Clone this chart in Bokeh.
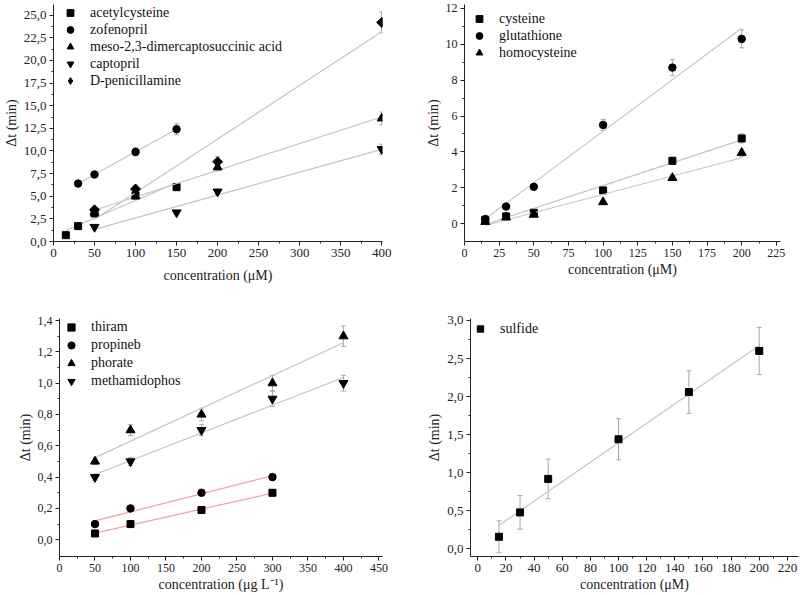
import numpy as np
from bokeh.plotting import figure
from bokeh.models import (ColumnDataSource, Whisker, TeeHead, Legend, LegendItem,
                          FixedTicker, CustomJSTickFormatter, Range1d)
from bokeh.layouts import column, row
from bokeh.embed import file_html
from bokeh.resources import INLINE

FONT = "Liberation Serif"
FIT_GRAY = "#c4c4c4"
FIT_RED = "#f2a0a0"
ERR_GRAY = "#a8a8a8"

# ---------------- Panel A: thiol drugs ----------------
a_names = ["acetylcysteine", "zofenopril", "meso-2,3-dimercaptosuccinic acid",
           "captopril", "D-penicillamine"]
a_markers = ["square", "circle", "triangle", "inverted_triangle", "diamond"]
a_x = [[15, 30, 50, 100, 150], [30, 50, 100, 150], [50, 100, 200, 400],
       [50, 150, 200, 400], [50, 100, 200, 400]]
a_y = [[0.7, 1.7, 3.1, 5.1, 6.0], [6.4, 7.4, 9.9, 12.4], [3.2, 5.0, 8.2, 13.6],
       [1.6, 3.2, 5.5, 10.2], [3.5, 5.8, 8.8, 24.2]]
a_err = [[0.1, 0.15, 0.2, 0.3, 0.3], [0.2, 0.3, 0.45, 0.6], [0.3, 0.35, 0.4, 0.7],
         [0.2, 0.2, 0.3, 0.55], [0.3, 0.4, 0.6, 1.15]]
a_xticks = [0, 50, 100, 150, 200, 250, 300, 350, 400]
a_yticks = [0, 2.5, 5, 7.5, 10, 12.5, 15, 17.5, 20, 22.5, 25]

# ---------------- Panel B: biothiols ----------------
b_names = ["cysteine", "glutathione", "homocysteine"]
b_markers = ["square", "circle", "triangle"]
b_x = [[15, 30, 50, 100, 150, 200]] * 3
b_y = [[0.2, 0.4, 0.6, 1.85, 3.5, 4.75], [0.25, 0.95, 2.05, 5.5, 8.7, 10.3],
       [0.1, 0.35, 0.5, 1.2, 2.55, 3.95]]
b_err = [[0.05, 0.08, 0.1, 0.15, 0.2, 0.25], [0.05, 0.1, 0.15, 0.3, 0.45, 0.5],
         [0.05, 0.05, 0.08, 0.1, 0.15, 0.2]]
b_xticks = [0, 25, 50, 75, 100, 125, 150, 175, 200, 225]
b_yticks = [0, 2, 4, 6, 8, 10, 12]

# ---------------- Panel C: pesticides ----------------
c_names = ["thiram", "propineb", "phorate", "methamidophos"]
c_markers = ["square", "circle", "triangle", "inverted_triangle"]
c_x = [[50, 100, 200, 300], [50, 100, 200, 300], [50, 100, 200, 300, 400],
       [50, 100, 200, 300, 400]]
c_y = [[0.04, 0.1, 0.19, 0.3], [0.1, 0.2, 0.3, 0.4], [0.5, 0.7, 0.8, 1.0, 1.3],
       [0.4, 0.5, 0.7, 0.9, 1.0]]
c_err = [[0.01, 0.01, 0.015, 0.02], [0.01, 0.01, 0.015, 0.02],
         [0.02, 0.035, 0.04, 0.05, 0.065], [0.02, 0.025, 0.035, 0.05, 0.05]]
c_fitcol = [FIT_RED, FIT_RED, FIT_GRAY, FIT_GRAY]
c_xticks = [0, 50, 100, 150, 200, 250, 300, 350, 400, 450]
c_yticks = [0, 0.2, 0.4, 0.6, 0.8, 1.0, 1.2, 1.4]

# ---------------- Panel D: sulfide ----------------
d_names = ["sulfide"]
d_markers = ["square"]
d_x = [[15, 30, 50, 100, 150, 200]]
d_y = [[0.16, 0.48, 0.92, 1.44, 2.06, 2.6]]
d_err = [[0.21, 0.22, 0.26, 0.27, 0.28, 0.31]]
d_xticks = [0, 20, 40, 60, 80, 100, 120, 140, 160, 180, 200, 220]
d_yticks = [0, 0.5, 1.0, 1.5, 2.0, 2.5, 3.0]

MSIZE = {"square": 7, "circle": 7.5, "triangle": 9, "inverted_triangle": 9, "diamond": 7}


def minor_of(ticks):
    return [(a + b) / 2 for a, b in zip(ticks[:-1], ticks[1:])]


def panel(w, h, borders, xr, yr, xticks, yticks, ydec, xlabel, tick_fs, xl_standoff,
          names, markers, xs, ys, errs, fitcols, leg):
    bl, br, bt, bb = borders
    p = figure(width=w, height=h, x_range=Range1d(*xr), y_range=Range1d(*yr),
               output_backend="svg", toolbar_location=None, title=None,
               min_border_left=bl, min_border_right=br,
               min_border_top=bt, min_border_bottom=bb)
    p.grid.visible = False
    p.outline_line_color = None
    p.background_fill_color = "white"

    for ax, ticks in ((p.xaxis[0], xticks), (p.yaxis[0], yticks)):
        ax.ticker = FixedTicker(ticks=ticks, minor_ticks=minor_of(ticks))
        ax.axis_line_color = "#222222"
        ax.major_tick_line_color = "#222222"
        ax.minor_tick_line_color = "#222222"
        ax.major_tick_out = 4
        ax.major_tick_in = 0
        ax.minor_tick_out = 2
        ax.minor_tick_in = 0
        ax.major_label_text_font = FONT
        ax.major_label_text_font_size = tick_fs
        ax.major_label_text_color = "#222222"
        ax.major_label_standoff = 3
        ax.axis_label_text_font = FONT
        ax.axis_label_text_font_size = "14px"
        ax.axis_label_text_font_style = "normal"
        ax.axis_label_text_color = "#222222"
        ax.axis_label_standoff = 2
    p.xaxis.axis_label = xlabel
    p.xaxis.axis_label_standoff = xl_standoff
    p.yaxis.axis_label = "Δt (min)"
    if ydec:
        p.yaxis.formatter = CustomJSTickFormatter(
            code="return tick.toFixed(%d).replace('.', ',');" % ydec)
    else:
        p.yaxis.formatter = CustomJSTickFormatter(code="return tick.toFixed(0);")
    p.xaxis.formatter = CustomJSTickFormatter(code="return tick.toFixed(0);")

    items = []
    for name, mk, x, y, e, fc in zip(names, markers, xs, ys, errs, fitcols):
        x = np.array(x, dtype=float)
        y = np.array(y, dtype=float)
        e = np.array(e, dtype=float)
        k, b0 = np.polyfit(x, y, 1)
        xf = np.array([x.min(), x.max()])
        p.line(xf, k * xf + b0, line_color=fc, line_width=1.2)
        src = ColumnDataSource(dict(x=x, y=y, up=y + e, lo=y - e))
        wk = Whisker(source=src, base="x", upper="up", lower="lo",
                     line_color=ERR_GRAY, line_width=1, level="underlay",
                     upper_head=TeeHead(size=5, line_color=ERR_GRAY, line_width=1),
                     lower_head=TeeHead(size=5, line_color=ERR_GRAY, line_width=1))
        p.add_layout(wk)
        if mk == "diamond":
            # diamond marker (used for the legend), covered by a square turned 45 degrees
            r = p.scatter("x", "y", source=src, marker="diamond", size=9,
                          fill_color="black", line_color="black")
            p.scatter("x", "y", source=src, marker="square", angle=np.pi / 4,
                      size=MSIZE[mk], fill_color="black", line_color="black")
        else:
            r = p.scatter("x", "y", source=src, marker=mk, size=MSIZE[mk],
                          fill_color="black", line_color="black")
        items.append(LegendItem(label=name, renderers=[r]))

    m, gw, gh, st = leg
    legend = Legend(items=items, location="top_left", margin=m, padding=0,
                    spacing=0, glyph_width=gw, glyph_height=gh, label_height=gh,
                    label_standoff=st, border_line_color=None,
                    background_fill_alpha=0, label_text_font=FONT,
                    label_text_font_size="14px", label_text_color="#111111")
    p.add_layout(legend)
    return p


pA = panel(400, 295, (50, 18, 0, 51), (0, 401), (0, 26.18), a_xticks, a_yticks, 1,
           "concentration (μM)", "13px", 8, a_names, a_markers, a_x, a_y, a_err,
           [FIT_GRAY] * 5, (0, 34, 17, 3))
pB = panel(399, 295, (64, 19, 4, 54), (0, 228), (-1, 12.22), b_xticks, b_yticks, 0,
           "concentration (μM)", "12px", 2, b_names, b_markers, b_x, b_y, b_err,
           [FIT_GRAY] * 3, (6, 18, 17, 11))
pC = panel(400, 299, (59, 18, 23, 38), (0, 455), (-0.107, 1.413), c_xticks, c_yticks, 1,
           "concentration (μg L⁻¹)", "12px", 2, c_names, c_markers, c_x, c_y, c_err,
           c_fitcol, (0, 24, 18, 8))
pD = panel(399, 299, (70, 1, 18, 38), (-5.2, 227.9), (-0.099, 3.026), d_xticks, d_yticks, 1,
           "concentration (μM)", "13px", 2, d_names, d_markers, d_x, d_y, d_err,
           [FIT_GRAY], (2, 16, 17, 12))

layout = column(row(pA, pB), row(pC, pD))

open("out.html", "w").write(file_html(layout, INLINE))
